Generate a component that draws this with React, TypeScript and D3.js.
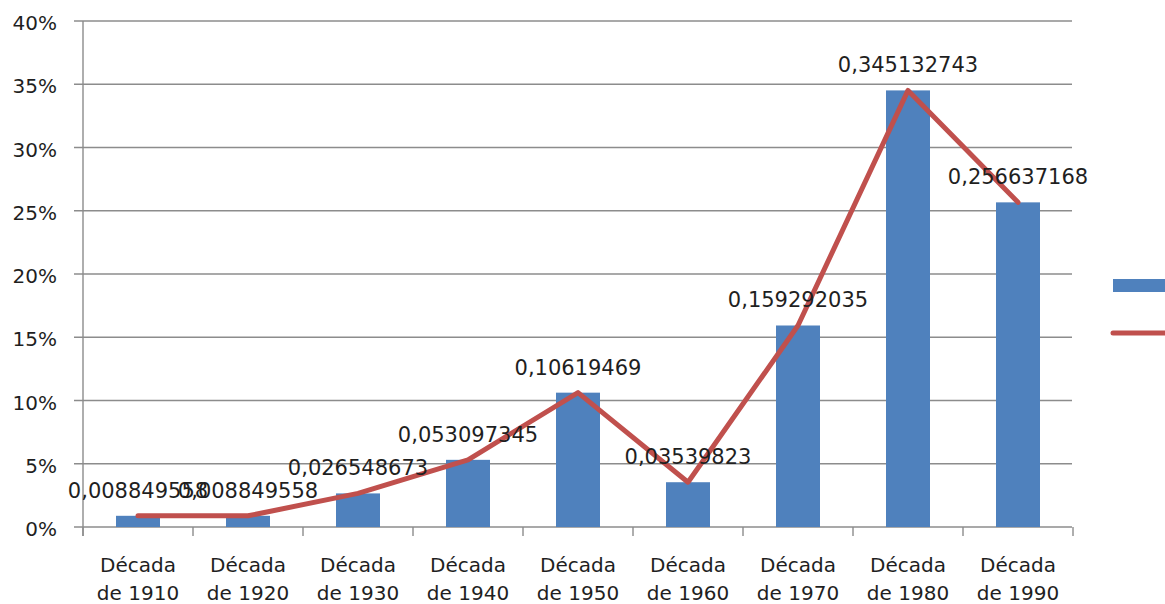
import React from "react";
import * as d3 from "d3";

// Share of titles per decade
const decades = [
  "Década de 1910",
  "Década de 1920",
  "Década de 1930",
  "Década de 1940",
  "Década de 1950",
  "Década de 1960",
  "Década de 1970",
  "Década de 1980",
  "Década de 1990",
];
const shares = [
  0.008849558, 0.008849558, 0.026548673, 0.053097345, 0.10619469,
  0.03539823, 0.159292035, 0.345132743, 0.256637168,
];
const yTicks = [0, 0.05, 0.1, 0.15, 0.2, 0.25, 0.3, 0.35, 0.4];

const W = 1165;
const H = 604;
const left = 83;
const right = 1073;
const top = 21;
const bottom = 527;

const BAR = "#4F81BD";
const LINE = "#C0504D";
const GRID = "#8C8C8C";
const TEXT = "#1F1F1F";
const FONT = "'DejaVu Sans', sans-serif";

export default function App() {
  const x = d3
    .scaleBand<string>()
    .domain(decades)
    .range([left, right])
    .paddingInner(0.6)
    .paddingOuter(0.3);
  const y = d3.scaleLinear().domain([0, 0.4]).range([bottom, top]);
  const step = x.step();
  const cx = (d: string) => (x(d) as number) + x.bandwidth() / 2;

  const line = d3
    .line<number>()
    .x((_, i) => cx(decades[i]))
    .y((v) => y(v));

  const fmtPct = (v: number) => `${Math.round(v * 100)}%`;
  const fmtLabel = (v: number) => String(v).replace(".", ",");

  return (
    <svg
      width={W}
      height={H}
      style={{ position: "absolute", left: 0, top: 0, background: "#fff" }}
      fontFamily={FONT}
    >
      {/* horizontal gridlines and value axis labels */}
      {yTicks.map((t) => (
        <g key={t}>
          <line
            x1={left - 9}
            x2={right - 1}
            y1={y(t)}
            y2={y(t)}
            stroke={GRID}
            strokeWidth={1.4}
          />
          <text
            x={57}
            y={y(t) + 9}
            textAnchor="end"
            fontSize={20}
            fill={TEXT}
          >
            {fmtPct(t)}
          </text>
        </g>
      ))}
      {/* value axis line */}
      <line x1={left} x2={left} y1={top} y2={bottom + 9} stroke={GRID} strokeWidth={1.4} />
      {/* category ticks */}
      {d3.range(decades.length + 1).map((i) => (
        <line
          key={i}
          x1={left + i * step}
          x2={left + i * step}
          y1={bottom}
          y2={bottom + 9}
          stroke={GRID}
          strokeWidth={1.4}
        />
      ))}
      {/* bars */}
      {decades.map((d, i) => (
        <rect
          key={d}
          x={x(d)}
          y={y(shares[i])}
          width={x.bandwidth()}
          height={bottom - y(shares[i])}
          fill={BAR}
        />
      ))}
      {/* trend line */}
      <path
        d={line(shares) || ""}
        fill="none"
        stroke={LINE}
        strokeWidth={5}
        strokeLinejoin="round"
        strokeLinecap="round"
      />
      {/* data labels */}
      {decades.map((d, i) => (
        <text
          key={d}
          x={cx(d)}
          y={y(shares[i]) - 18}
          textAnchor="middle"
          fontSize={21}
          fill={TEXT}
        >
          {fmtLabel(shares[i])}
        </text>
      ))}
      {/* category labels */}
      {decades.map((d) => {
        const parts = d.split(" de ");
        return (
          <text key={d} x={cx(d)} textAnchor="middle" fontSize={20} fill={TEXT}>
            <tspan x={cx(d)} y={572}>
              {parts[0]}
            </tspan>
            <tspan x={cx(d)} y={600}>
              {"de " + parts[1]}
            </tspan>
          </text>
        );
      })}
      {/* legend keys */}
      <rect x={1113} y={279} width={60} height={13} fill={BAR} />
      <line
        x1={1113}
        x2={1180}
        y1={333}
        y2={333}
        stroke={LINE}
        strokeWidth={5}
        strokeLinecap="round"
      />
    </svg>
  );
}
